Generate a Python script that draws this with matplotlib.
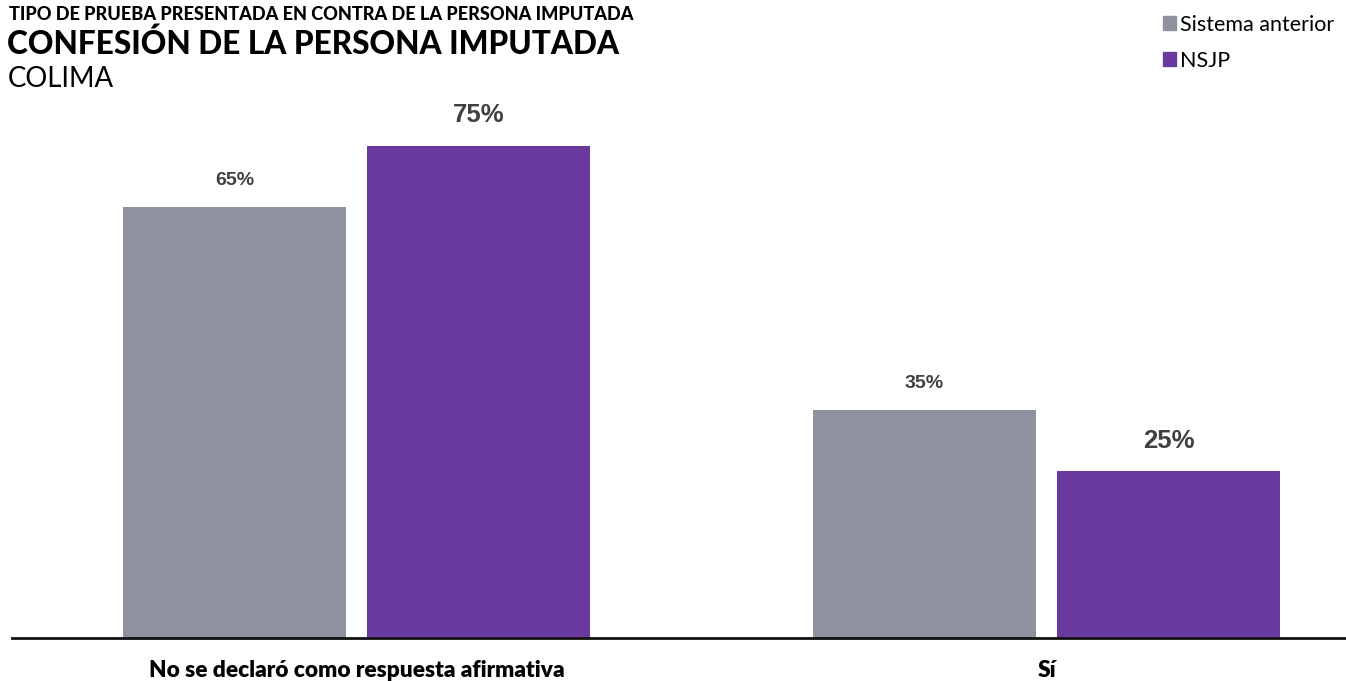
import matplotlib
matplotlib.use("Agg")
import matplotlib.pyplot as plt
import numpy as np
from matplotlib.patches import Patch

categories = ["No se declaró como respuesta afirmativa", "Sí"]
series_names = ["Sistema anterior", "NSJP"]
anterior = [65.4, 34.6]
nsjp = [74.7, 25.3]
colors = ["#8E929E", "#6A3A9F"]

fig = plt.figure(figsize=(13.46, 6.81), dpi=100)
ax = fig.add_axes([12 / 1346, 43 / 681, 1 - 12 / 1346, (638 - 100) / 681])

x = np.arange(len(categories))
width = 0.323
off = 0.177
b1 = ax.bar(x - off, anterior, width, color=colors[0])
b2 = ax.bar(x + off, nsjp, width, color=colors[1])

# small labels for the old system, larger ones for NSJP
for rect, v in zip(b1, anterior):
    cx = rect.get_x() + rect.get_width() / 2
    ax.annotate(f"{v:.0f}%", (cx, v), xytext=(0, 13), textcoords="offset points",
                ha="center", va="bottom", fontsize=14, fontweight="bold",
                color="#404040", family="Liberation Sans")
for rect, v in zip(b2, nsjp):
    cx = rect.get_x() + rect.get_width() / 2
    ax.annotate(f"{v:.0f}%", (cx, v), xytext=(0, 13.5), textcoords="offset points",
                ha="center", va="bottom", fontsize=18.5, fontweight="bold",
                color="#404040", family="Liberation Sans")

ax.set_xlim(-0.4993, 1.434)
ax.set_ylim(0, 81.7)
for s in ["top", "right", "left"]:
    ax.spines[s].set_visible(False)
ax.spines["bottom"].set_linewidth(2)
ax.spines["bottom"].set_color("#111111")
ax.set_yticks([])
ax.set_xticks(x)
ax.set_xticklabels(categories, fontsize=16.3, fontweight="heavy", family="Lato")
ax.tick_params(axis="x", length=0, pad=16)

fig.text(0.0065, 1 - 14 / 681, "TIPO DE PRUEBA PRESENTADA EN CONTRA DE LA PERSONA IMPUTADA",
         fontsize=13.1, fontweight="black", family="Lato", va="center", ha="left")
fig.text(0.0055, 1 - 44 / 681, "CONFESIÓN DE LA PERSONA IMPUTADA",
         fontsize=22.7, fontweight="black", family="Lato", va="center", ha="left")
fig.text(0.0055, 1 - 79 / 681, "COLIMA",
         fontsize=19.8, family="Lato", va="center", ha="left")

handles = [Patch(color=c, label=n) for c, n in zip(colors, series_names)]
fig.legend(handles=handles, loc="upper right", bbox_to_anchor=(1.006, 1.007),
           frameon=False, prop={"family": "Lato", "size": 15.5},
           handlelength=0.6, handleheight=0.6, handletextpad=0.2, labelspacing=0.75)

fig.savefig("out.png", dpi=100)
